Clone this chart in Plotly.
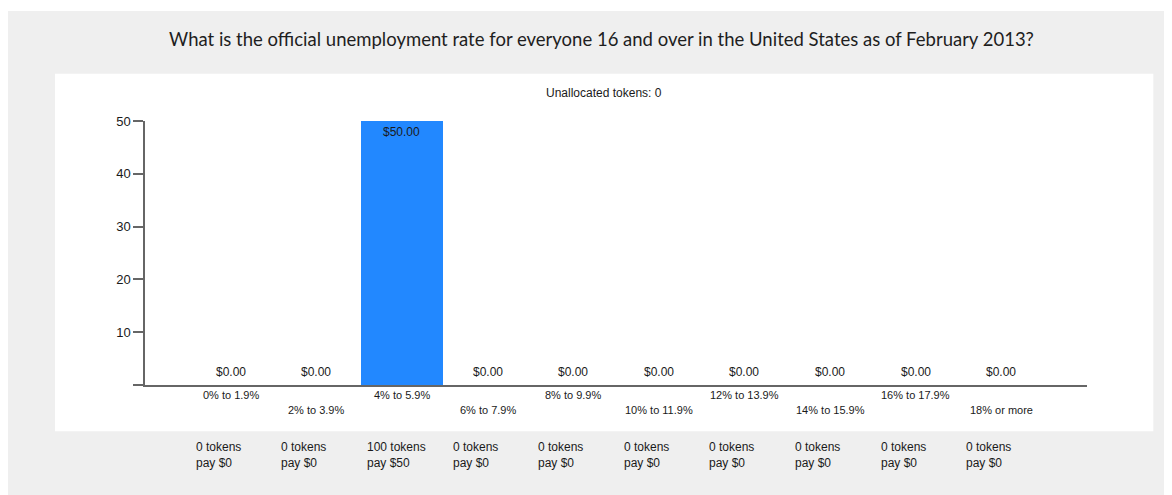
import plotly.graph_objects as go

categories = ["0% to 1.9%", "2% to 3.9%", "4% to 5.9%", "6% to 7.9%", "8% to 9.9%",
              "10% to 11.9%", "12% to 13.9%", "14% to 15.9%", "16% to 17.9%", "18% or more"]
values = [0, 0, 50, 0, 0, 0, 0, 0, 0, 0]
tokens = [0, 0, 100, 0, 0, 0, 0, 0, 0, 0]
pays = [0, 0, 50, 0, 0, 0, 0, 0, 0, 0]
y_tickvals = [0, 10, 20, 30, 40, 50]
y_ticktext = ["", "10", "20", "30", "40", "50"]
title_text = "What is the official unemployment rate for everyone 16 and over in the United States as of February 2013?"
unallocated = 0

OFF = 8  # page body margin
W, H = 1172 - OFF, 495 - OFF
# plot area in reference-screen pixels
L, R, T, B = 145, 1086.7, 120.5, 385.5

def px2x(px):
    return (px - L) / (R - L)

def py2y(py):
    return (B - py) / (B - T)

FONT = "Liberation Sans, Arial, sans-serif"
TXT = "#1a1a1a"
AX = "#666666"

x = list(range(len(categories)))

fig = go.Figure()
fig.add_trace(go.Bar(
    x=x, y=values, width=0.95,
    marker=dict(color="#2288ff", line=dict(width=0)),
    hoverinfo="skip",
))

annotations = []
for i, v in enumerate(values):
    if v > 0:
        annotations.append(dict(x=i, y=v, xref="x", yref="y", text=f"${v:.2f}",
                                showarrow=False, yanchor="top", yshift=-3, borderpad=0,
                                font=dict(family=FONT, size=12, color=TXT)))
    else:
        annotations.append(dict(x=i, y=v, xref="x", yref="y", text=f"${v:.2f}",
                                showarrow=False, yanchor="bottom", yshift=5, borderpad=0,
                                font=dict(family=FONT, size=12, color=TXT)))
for i, c in enumerate(categories):
    annotations.append(dict(x=i, y=0, xref="x", yref="y", text=c, showarrow=False,
                            yanchor="middle", yshift=-9.5 if i % 2 == 0 else -24.5, borderpad=0,
                            font=dict(family=FONT, size=11, color=TXT)))
for i, (t, p) in enumerate(zip(tokens, pays)):
    annotations.append(dict(x=i, y=0, xref="x", yref="y", text=f"{t} tokens<br>pay ${p}",
                            showarrow=False, xanchor="left", xshift=-36, align="left",
                            yanchor="top", yshift=-53.5, borderpad=0,
                            font=dict(family=FONT, size=12, color=TXT)))
annotations.append(dict(x=px2x(604), y=py2y(92), xref="paper", yref="paper",
                        text=f"Unallocated tokens: {unallocated}", showarrow=False,
                        xanchor="center", yanchor="middle",
                        font=dict(family=FONT, size=12, color=TXT)))

shapes = [
    dict(type="rect", xref="paper", yref="paper", layer="below",
         x0=px2x(0), x1=px2x(1168), y0=py2y(500), y1=py2y(10),
         fillcolor="#efefef", line=dict(width=0)),
    dict(type="rect", xref="paper", yref="paper", layer="below",
         x0=px2x(55), x1=px2x(1153), y0=py2y(432), y1=py2y(73),
         fillcolor="#ffffff", line=dict(width=0)),
]

fig.update_layout(
    width=W, height=H,
    margin=dict(l=L - OFF, r=1172 - R, t=T - OFF, b=495 - B, pad=0),
    paper_bgcolor="#ffffff",
    plot_bgcolor="rgba(0,0,0,0)",
    showlegend=False,
    title=dict(text=title_text, x=(601.5 - OFF) / W, xanchor="center",
               y=1 - (40 - OFF) / H, yanchor="middle",
               font=dict(family="Lato, 'Open Sans', sans-serif", size=18.5, color="#1e1e1e")),
    xaxis=dict(range=[-1, 10], showgrid=False, zeroline=False, showticklabels=False,
               showline=True, linecolor=AX, linewidth=1.5, ticks="", fixedrange=True),
    yaxis=dict(range=[0, 50], showgrid=False, zeroline=False, showline=True, linecolor=AX,
               linewidth=1.5, ticks="outside", ticklen=10, tickwidth=1.5, tickcolor=AX,
               tickvals=y_tickvals, ticktext=y_ticktext, fixedrange=True,
               tickfont=dict(family=FONT, size=13, color=TXT)),
    annotations=annotations,
    shapes=shapes,
    bargap=0,
)

fig.write_html("out.html")
